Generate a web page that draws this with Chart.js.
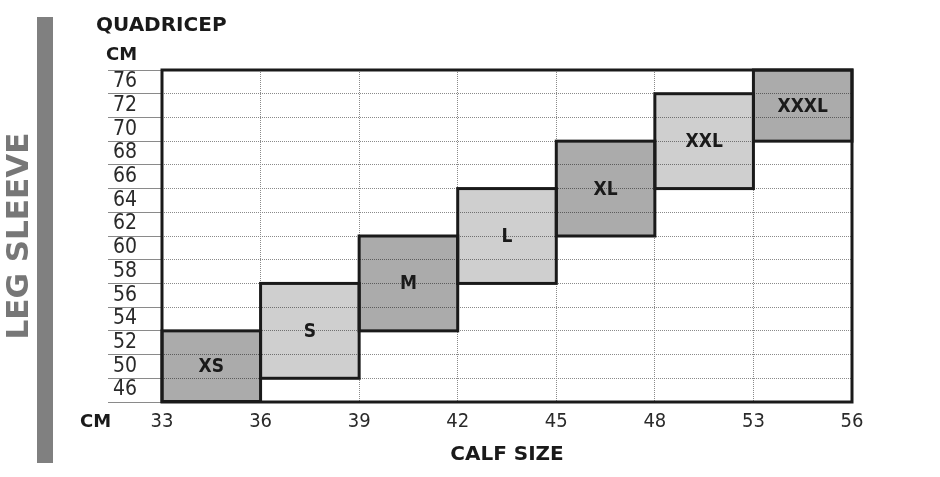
<!DOCTYPE html>
<html>
<head>
<meta charset="utf-8">
<script src="https://cdn.jsdelivr.net/npm/chart.js@4.4.1/dist/chart.umd.min.js"></script>
<style>
  html, body { margin: 0; padding: 0; background: #fff; }
  #wrap { width: 940px; height: 477px; }
</style>
</head>
<body>
<div id="wrap"><canvas id="sizeChart"></canvas></div>
<script>
// tick labels
const calfTicks = [33, 36, 39, 42, 45, 48, 53, 56];
const quadTicks = [46, 50, 52, 54, 56, 58, 60, 62, 64, 66, 68, 70, 72, 76];

// sizes
const sizes = ['XS', 'S', 'M', 'L', 'XL', 'XXL', 'XXXL'];
const calfFrom = [33, 36, 39, 42, 45, 48, 53];
const calfTo = [36, 39, 42, 45, 48, 53, 56];
const quadFrom = [46, 50, 54, 58, 62, 66, 70];
const quadTo = [52, 56, 60, 64, 68, 72, 76];

const titleFont = "'DejaVu Sans', sans-serif";
const tickFont = "'DejaVu Sans Condensed', 'DejaVu Sans', sans-serif";

const boxes = sizes.map((s, i) => ({
  x: (calfTicks.indexOf(calfFrom[i]) + calfTicks.indexOf(calfTo[i])) / 2,
  y: [quadTicks.indexOf(quadFrom[i]), quadTicks.indexOf(quadTo[i]) + 1]
}));

const decor = {
  id: 'decor',
  beforeDraw(chart) {
    const ctx = chart.ctx;
    ctx.save();
    ctx.fillStyle = '#808080';
    ctx.fillRect(37, 17, 16, 446);
    ctx.restore();
  },
  afterDatasetsDraw(chart) {
    const ctx = chart.ctx;
    const a = chart.chartArea;
    const bars = chart.getDatasetMeta(0).data;
    ctx.save();
    ctx.lineWidth = 3;
    ctx.strokeStyle = '#1a1a1a';
    ctx.strokeRect(a.left, a.top, a.right - a.left, a.bottom - a.top);

    // box outlines, centred on the cell edges
    bars.forEach(bar => {
      const p = bar.getProps(['x', 'y', 'base', 'width'], true);
      ctx.strokeRect(p.x - p.width / 2, p.y, p.width, p.base - p.y);
    });

    // size names in the middle of each box
    ctx.fillStyle = '#1a1a1a';
    ctx.font = "bold 19px " + tickFont;
    ctx.textAlign = 'center';
    ctx.textBaseline = 'middle';
    bars.forEach((bar, i) => {
      const p = bar.getProps(['x', 'y', 'base'], true);
      ctx.fillText(sizes[i], p.x, (p.y + p.base) / 2 + 1);
    });

    ctx.textAlign = 'left';
    ctx.font = "bold 20px " + titleFont;
    ctx.fillText('QUADRICEP', 96, 26);
    ctx.font = "bold 18px " + titleFont;
    ctx.fillText('CM', 106, 55);
    ctx.fillText('CM', 80, 422);
    ctx.restore();
  }
};

new Chart(document.getElementById('sizeChart'), {
  type: 'bar',
  data: {
    datasets: [{
      label: 'Leg sleeve',
      data: boxes,
      backgroundColor: sizes.map((s, i) => i % 2 ? 'rgba(0,0,0,0.19)' : 'rgba(0,0,0,0.33)'),
      borderWidth: 0,
      inflateAmount: 0,
      barPercentage: 1,
      categoryPercentage: 1
    }]
  },
  options: {
    responsive: true,
    maintainAspectRatio: false,
    animation: false,
    layout: { padding: { top: 70, right: 88, left: 0, bottom: 0 } },
    plugins: {
      legend: { display: false },
      tooltip: { enabled: false }
    },
    scales: {
      x: {
        type: 'linear',
        min: 0,
        max: calfTicks.length - 1,
        offset: false,
        afterFit: s => { s.height = 75; },
        grid: { offset: false, color: '#8a8a8a', lineWidth: 1, drawTicks: false },
        border: { display: false, dash: [1, 1] },
        ticks: {
          stepSize: 1,
          autoSkip: false,
          maxRotation: 0,
          padding: 10,
          color: '#2a2a2a',
          font: { family: tickFont, size: 20, lineHeight: 1 },
          callback: v => calfTicks[v]
        },
        title: {
          display: true,
          text: 'CALF SIZE',
          color: '#1a1a1a',
          padding: { top: 0, bottom: 10 },
          font: { family: titleFont, size: 20, weight: 'bold', lineHeight: 1.2 }
        }
      },
      y: {
        type: 'linear',
        min: 0,
        max: quadTicks.length,
        afterFit: s => { s.width = 162; },
        grid: { color: '#8a8a8a', lineWidth: 1, tickLength: 54 },
        border: { display: false, dash: [1, 1] },
        ticks: {
          stepSize: 1,
          autoSkip: false,
          padding: -29,
          labelOffset: -12,
          color: '#2a2a2a',
          font: { family: tickFont, size: 21, lineHeight: 1 },
          callback: v => v < quadTicks.length ? quadTicks[v] : ''
        },
        title: {
          display: true,
          text: 'LEG SLEEVE',
          color: '#777',
          padding: { top: 4, bottom: 0 },
          font: { family: titleFont, size: 31, weight: 'bold', lineHeight: 1 }
        }
      }
    }
  },
  plugins: [decor]
});
</script>
</body>
</html>
